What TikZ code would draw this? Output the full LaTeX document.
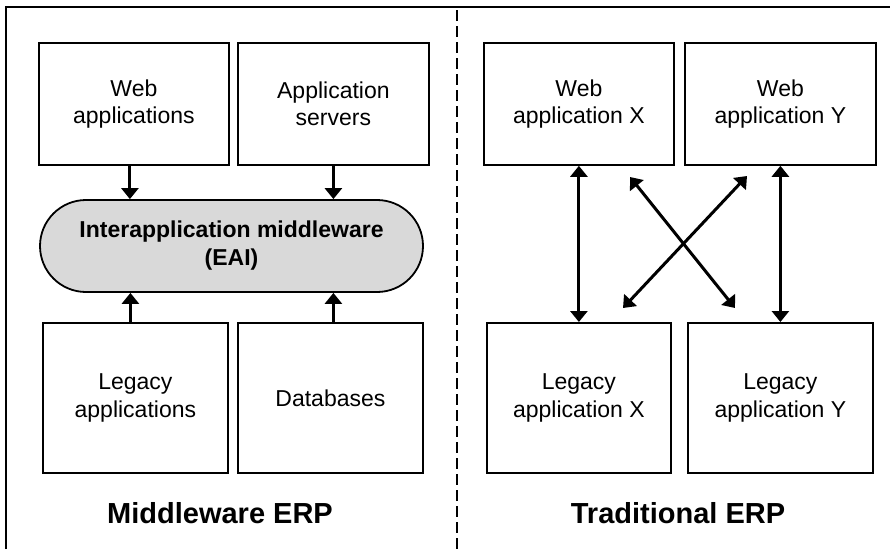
\documentclass[tikz,border=0pt]{standalone}
\usepackage{fontspec}
\setmainfont{Liberation Sans}
\usetikzlibrary{arrows.meta,shapes.misc,positioning}
\begin{document}
\begin{tikzpicture}[x=1pt,y=-1pt,
  box/.style={draw=black,line width=1.8pt,anchor=north west,align=center,inner sep=0pt,
    font=\fontsize{23}{27.5}\selectfont},
  arr/.style={line width=3pt,-{Triangle[length=11pt,width=17pt]}},
  darr/.style={line width=3pt,{Triangle[length=11pt,width=17pt]}-{Triangle[length=11pt,width=17pt]}},
  title/.style={font=\fontsize{29}{34}\selectfont\bfseries}]
\useasboundingbox (0,0) rectangle (890,549);
% frame
\draw[line width=2.5pt] (6,549) -- (6,7) -- (890,7);
\draw[line width=2.5pt,dash pattern=on 11pt off 5pt] (457,10) -- (457,549);
% left side
\node[box,minimum width=190pt,minimum height=122pt] (wa) at (38,42) {Web\\applications};
\node[box,minimum width=191pt,minimum height=122pt] (as) at (237,42) {Application\\servers};
\node[draw=black,line width=1.8pt,fill=gray!30,rounded rectangle,minimum width=383pt,minimum height=92pt,
  align=center,inner sep=0pt,font=\fontsize{23}{28}\selectfont\bfseries] (mw) at (231.5,246)
  {Interapplication middleware\\(EAI)};
\node[box,minimum width=185pt,minimum height=150pt] (la) at (42,322) {Legacy\\applications};
\node[box,minimum width=185pt,minimum height=150pt] (db) at (237,322) {Databases};
\draw[arr] ([xshift=-4pt]wa.south) -- ([xshift=-4pt]wa.south |- mw.north);
\draw[arr] (as.south) -- (as.south |- mw.north);
\draw[arr] ([xshift=-5pt]la.north) -- ([xshift=-5pt]la.north |- mw.south);
\draw[arr] ([xshift=3pt]db.north) -- ([xshift=3pt]db.north |- mw.south);
\node[title] (tm) at (220,513) {Middleware ERP};
% right side
\node[box,minimum width=190pt,minimum height=122pt] (wx) at (483,42) {Web\\application X};
\node[box,minimum width=191pt,minimum height=122pt] (wy) at (684,42) {Web\\application Y};
\node[box,minimum width=184pt,minimum height=150pt] (lx) at (486,322) {Legacy\\application X};
\node[box,minimum width=185pt,minimum height=150pt] (ly) at (687,322) {Legacy\\application Y};
\draw[darr] (wx.south) -- (lx.north);
\draw[darr] (wy.south) -- (ly.north);
\coordinate (a1) at (630,177);
\coordinate (a2) at (735,308);
\coordinate (b1) at (747,176);
\coordinate (b2) at (623,308);
\draw[darr] (a1) -- (a2);
\draw[darr] (b1) -- (b2);
\node[title] (tt) at (678,513) {Traditional ERP};
\end{tikzpicture}
\end{document}
